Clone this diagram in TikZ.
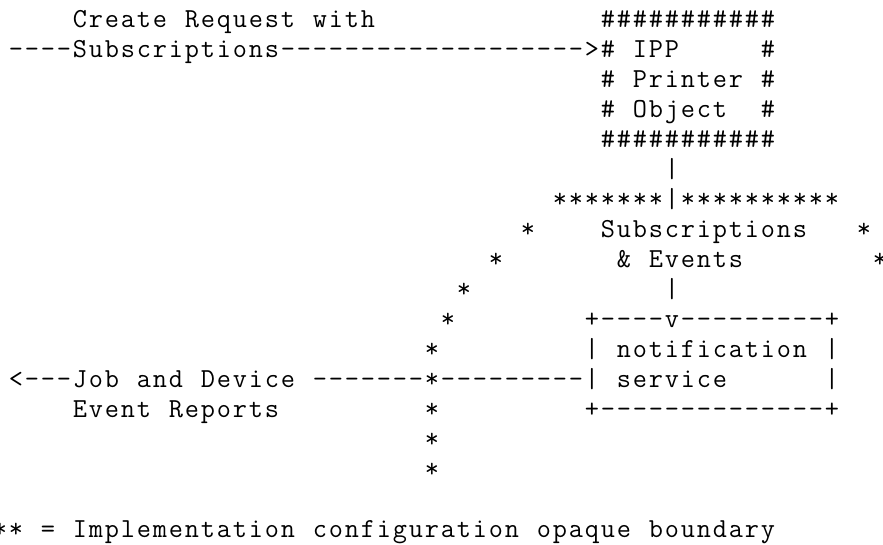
\documentclass[tikz,border=0pt]{standalone}
\usepackage{fontspec}
% every character sits centred in a fixed 16pt cell, so columns line up
\newcommand\cells[1]{\cellsstep#1\relax}
\def\cellsstep#1{\ifx#1\relax\else\makebox[16pt][c]{#1}\expandafter\cellsstep\fi}
\begin{document}
\begin{tikzpicture}[x=1pt,y=1pt,
  asc/.style={anchor=base west,inner sep=0pt,outer sep=0pt,
    font=\ttfamily\fontsize{27.5}{30}\selectfont}]
% one character cell is 16 wide, one text row is 30 high
\newcommand\asciitxt[4]{\node[asc] (#1) at ({8+16*(#2)},{-27-30*((#3)-1)}) {\cells{#4}};}
\path[use as bounding box,fill=white] (0,0) rectangle (883,-544);
% request into the printer object
\asciitxt{req}{4}{1}{Create~Request~with}
\asciitxt{ptop}{37}{1}{\#\#\#\#\#\#\#\#\#\#\#}
\asciitxt{subs}{0}{2}{----Subscriptions------------------->\#~IPP~~~~~\#}
\asciitxt{pmid}{37}{3}{\#~Printer~\#}
\asciitxt{pobj}{37}{4}{\#~Object~~\#}
\asciitxt{pbot}{37}{5}{\#\#\#\#\#\#\#\#\#\#\#}
\asciitxt{bar1}{41}{6}{|}
% opaque boundary
\asciitxt{btop}{34}{7}{*******|**********}
\asciitxt{bl8}{32}{8}{*}
\asciitxt{sub2}{37}{8}{Subscriptions}
\asciitxt{br8}{53}{8}{*}
\asciitxt{bl9}{30}{9}{*}
\asciitxt{evts}{38}{9}{\&~Events}
\asciitxt{br9}{54}{9}{*}
\asciitxt{bl10}{28}{10}{*}
\asciitxt{bar2}{41}{10}{|}
\asciitxt{bl11}{27}{11}{*}
% notification service box
\asciitxt{ntop}{36}{11}{+----v---------+}
\asciitxt{bl12}{26}{12}{*}
\asciitxt{nmid}{36}{12}{|~notification~|}
\asciitxt{rep}{0}{13}{<---Job~and~Device~-------*---------|~service~~~~~~|}
\asciitxt{rep2}{4}{14}{Event~Reports}
\asciitxt{bl14}{26}{14}{*}
\asciitxt{nbot}{36}{14}{+--------------+}
\asciitxt{bl15}{26}{15}{*}
\asciitxt{bl16}{26}{16}{*}
% legend
\asciitxt{key}{-1}{18}{**~=~Implementation~configuration~opaque~boundary}
\end{tikzpicture}
\end{document}
